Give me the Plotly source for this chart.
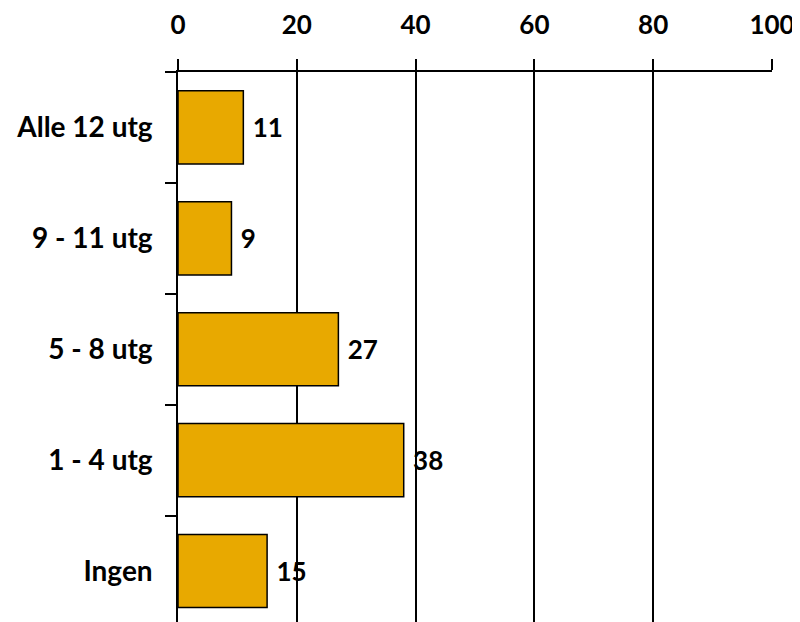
import plotly.graph_objects as go

categories = ["Alle 12 utg", "9 - 11 utg", "5 - 8 utg", "1 - 4 utg", "Ingen"]
values = [11, 9, 27, 38, 15]
x_ticks = [0, 20, 40, 60, 80, 100]

FONT = "Lato"
FS = 26

fig = go.Figure(
    go.Bar(
        x=values,
        y=categories,
        orientation="h",
        marker=dict(color="#E8A900", line=dict(color="black", width=1.5)),
        text=["\u00a0" + str(v) for v in values],
        textposition="outside",
        textfont=dict(family=FONT, size=FS, color="black", weight="bold"),
        cliponaxis=False,
        width=0.66,
    )
)

# page body adds an 8px offset, so the figure is sized to fill the rest
fig.update_layout(
    width=792,
    height=614,
    margin=dict(l=170, r=28, t=64, b=0),
    paper_bgcolor="white",
    plot_bgcolor="white",
    showlegend=False,
    font=dict(family=FONT, color="black"),
)

fig.update_xaxes(
    side="top",
    range=[0, 100],
    automargin=False,
    tickvals=x_ticks,
    ticktext=[str(t) for t in x_ticks],
    ticks="outside",
    ticklen=11,
    tickwidth=1.5,
    tickcolor="black",
    showline=True,
    linecolor="black",
    linewidth=1.5,
    showgrid=True,
    gridcolor="black",
    gridwidth=1.5,
    zeroline=False,
    ticklabelstandoff=15,
    tickfont=dict(family=FONT, size=FS, color="black", weight="bold"),
)

fig.update_yaxes(
    type="category",
    categoryorder="array",
    categoryarray=categories,
    range=[4.46, -0.5],
    automargin=False,
    tickson="boundaries",
    ticks="outside",
    ticklen=11,
    tickwidth=1.5,
    tickcolor="black",
    showline=True,
    linecolor="black",
    linewidth=1.5,
    showgrid=False,
    zeroline=False,
    ticklabelstandoff=18,
    tickfont=dict(family=FONT, size=28, color="black", weight="bold"),
)

fig.write_html("out.html")
